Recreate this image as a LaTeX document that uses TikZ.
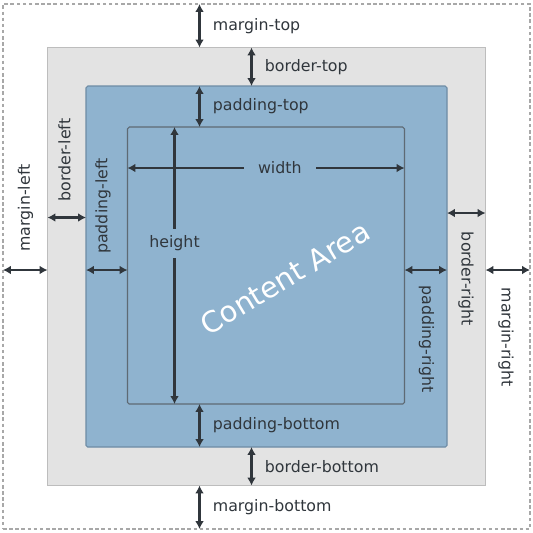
\documentclass[tikz,border=0pt]{standalone}
\usepackage{fontspec}
\setmainfont{DejaVu Sans}
\usetikzlibrary{arrows.meta}

\definecolor{framegray}{HTML}{A8A8A8}
\definecolor{bordergray}{HTML}{E3E3E3}
\definecolor{borderedge}{HTML}{BDBDBD}
\definecolor{padblue}{HTML}{8FB3CF}
\definecolor{padedge}{HTML}{6E8CA5}
\definecolor{contentedge}{HTML}{5E6A74}
\definecolor{ink}{HTML}{30363C}

\def\px{0.02cm}
\tikzset{every picture/.style={line width=0.6pt}}
\tikzset{
  box/.style={inner sep=0pt, outer sep=0pt, minimum size=#1*\px},
  dim/.style={{Latex[length=4.5pt,width=5pt]}-{Latex[length=4.5pt,width=5pt]},
              draw=ink, line width=1.2pt},
  lbl/.style={text=ink, font=\fontsize{9}{11}\selectfont, inner sep=1pt},
}

\begin{document}
\begin{tikzpicture}[x=\px, y=-\px]
  \useasboundingbox (0,0) rectangle (533,532);
  % boxes, outside in
  \node[draw=framegray, dash pattern=on 2pt off 1.5pt, inner sep=0pt, outer sep=0pt,
        minimum width=527*\px, minimum height=525*\px] (frame) at (266.5,266.5) {};
  \node[box=438, fill=bordergray, draw=borderedge] (border) at (266.5,266.5) {};
  \node[box=361, fill=padblue, draw=padedge, rounded corners=1pt] (padding) at (266.5,266.5) {};
  \node[box=277, fill=padblue, draw=contentedge, rounded corners=1pt] (content) at (266,265.5) {};

  % columns and rows of the arrows
  \coordinate (colA) at (199.5,0);
  \coordinate (colB) at (251.5,0);
  \coordinate (colH) at (174.5,0);
  \coordinate (rowW) at (0,168);
  \coordinate (rowM) at (0,270);
  \coordinate (rowBL) at (0,217.5);
  \coordinate (rowBR) at (0,213);

  % top and bottom
  \draw[dim] (frame.north -| colA) -- node[lbl, right=6pt] (mt) {margin-top} (border.north -| colA);
  \draw[dim] (border.north -| colB) -- node[lbl, right=6pt] (bt) {border-top} (padding.north -| colB);
  \draw[dim] (padding.north -| colA) -- node[lbl, right=6pt] (pt) {padding-top} (content.north -| colA);
  \draw[dim] (content.south -| colA) -- node[lbl, right=6pt] (pb) {padding-bottom} (padding.south -| colA);
  \draw[dim] (padding.south -| colB) -- node[lbl, right=6pt] (bb) {border-bottom} (border.south -| colB);
  \draw[dim] (border.south -| colA) -- node[lbl, right=6pt] (mb) {margin-bottom} (frame.south -| colA);

  % left and right
  \draw[dim] (frame.west |- rowM) -- (border.west |- rowM);
  \draw[dim] (border.west |- rowBL) -- (padding.west |- rowBL);
  \draw[dim] (padding.west |- rowM) -- (content.west |- rowM);
  \draw[dim] (content.east |- rowM) -- (padding.east |- rowM);
  \draw[dim] (padding.east |- rowBR) -- (border.east |- rowBR);
  \draw[dim] (border.east |- rowM) -- (frame.east |- rowM);
  \node[lbl, rotate=90] (ml) at (25.5,208) {margin-left};
  \node[lbl, rotate=90] (bl) at (64.5,160) {border-left};
  \node[lbl, rotate=90] (pl) at (103,206) {padding-left};
  \node[lbl, rotate=-90] (pr) at (426.5,339) {padding-right};
  \node[lbl, rotate=-90] (br) at (466,279) {border-right};
  \node[lbl, rotate=-90] (mr) at (506,337) {margin-right};

  % content area
  \draw[dim] (content.west |- rowW) -- node[lbl, pos=0.55, fill=padblue, inner xsep=8pt] (w) {width} (content.east |- rowW);
  \draw[dim] (content.north -| colH) -- node[lbl, pos=0.42, fill=padblue, inner ysep=4pt] (h) {height} (content.south -| colH);
  \node[text=white, font=\fontsize{16.5}{20}\selectfont, rotate=31] (area) at (285,278) {Content Area};
\end{tikzpicture}
\end{document}
